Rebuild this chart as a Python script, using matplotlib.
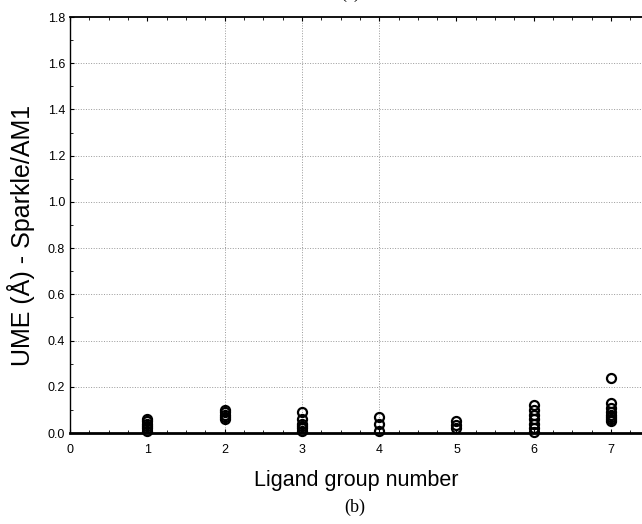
import numpy as np
import matplotlib.pyplot as plt
from matplotlib.ticker import MultipleLocator

# UME values per ligand group
group_ids = [1, 2, 3, 4, 5, 6, 7]
ume_values = [
    [0.06, 0.05, 0.04, 0.03, 0.02, 0.01],
    [0.10, 0.09, 0.08, 0.07, 0.06],
    [0.09, 0.06, 0.04, 0.03, 0.02, 0.01],
    [0.07, 0.04, 0.01],
    [0.05, 0.035, 0.02],
    [0.12, 0.10, 0.08, 0.06, 0.04, 0.02, 0.005],
    [0.24, 0.13, 0.11, 0.09, 0.08, 0.07, 0.06, 0.05],
]
x_ticks = [0, 1, 2, 3, 4, 5, 6, 7]
y_ticks = [0.0, 0.2, 0.4, 0.6, 0.8, 1.0, 1.2, 1.4, 1.6, 1.8]

plt.rcParams['font.family'] = ['Liberation Sans', 'DejaVu Sans']

fig = plt.figure(figsize=(6.42, 5.24), dpi=100)
ax = fig.add_axes([70 / 642, 1 - 433 / 524, 1 - 70 / 642, (433 - 17) / 524])

for g, vals in zip(group_ids, ume_values):
    ax.plot([g] * len(vals), vals, 'o', mfc='none', mec='black', mew=1.6, ms=6.5,
            clip_on=False, zorder=3)

ax.set_xlim(0, 7.4)
ax.set_ylim(0, 1.8)
ax.set_xticks(x_ticks)
ax.set_yticks(y_ticks)
ax.set_yticklabels([f"{v:.1f}" for v in y_ticks])
ax.xaxis.set_minor_locator(MultipleLocator(0.25))
ax.yaxis.set_minor_locator(MultipleLocator(0.1))
ax.tick_params(which='both', direction='in', top=True, right=False, labelsize=9)
ax.tick_params(which='major', length=3)
ax.tick_params(which='minor', length=2)
ax.tick_params(axis='x', pad=8)

# grid: horizontal everywhere, vertical only at 2, 3, 4
for yv in y_ticks[1:-1]:
    ax.axhline(yv, color='#999999', ls=':', lw=0.7, zorder=0)
for xv in [2, 3, 4]:
    ax.axvline(xv, color='#999999', ls=':', lw=0.7, zorder=0)

ax.spines['right'].set_visible(False)
ax.spines['bottom'].set_linewidth(2)
ax.spines['top'].set_linewidth(1.3)
ax.spines['left'].set_linewidth(1)

ax.set_xlabel("Ligand group number", fontsize=15.5, labelpad=10)
ax.set_ylabel("UME (Å) - Sparkle/AM1", fontsize=18, va='center')
ax.yaxis.set_label_coords(-0.086, 0.476)

fig.text(0.553, 0.031, "(b)", family='Liberation Serif', fontsize=13, ha='center', va='center')
fig.text(0.545, 1.012, "(a)", family='Liberation Serif', fontsize=13, ha='center', va='center')

fig.savefig("out.png", dpi=100)
